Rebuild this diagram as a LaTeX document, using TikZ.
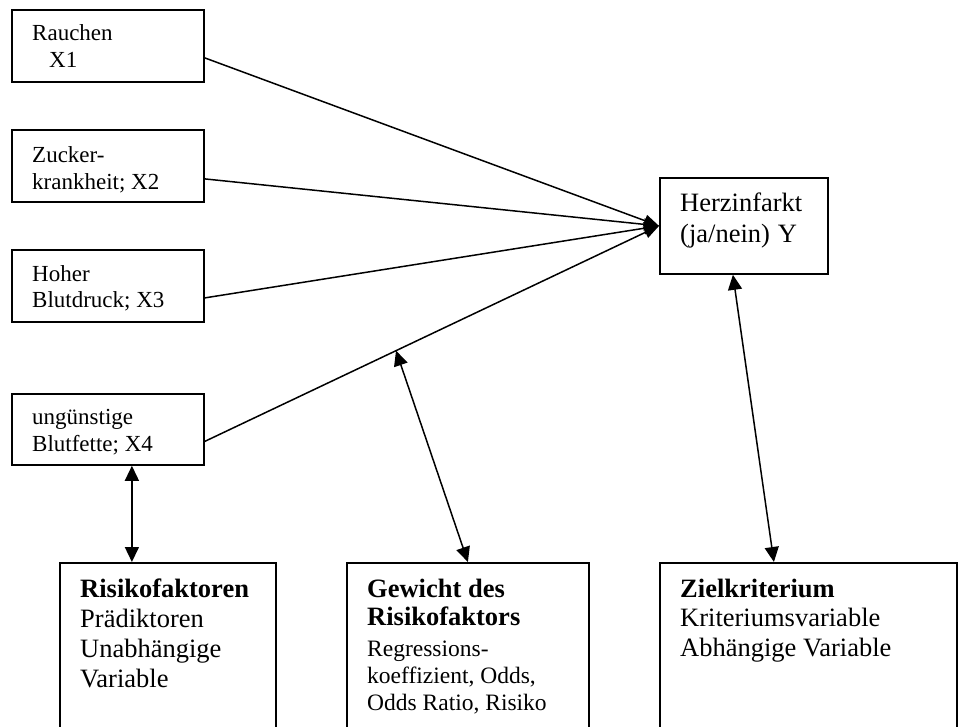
\documentclass[tikz,border=0pt]{standalone}
\usepackage{fontspec}
\setmainfont{Liberation Serif}
\usetikzlibrary{arrows.meta}
\tikzset{
  box/.style={draw, line width=1.8pt, rectangle, inner sep=0pt, anchor=north west},
  sm/.style={font=\fontsize{23}{27}\selectfont, align=left, inner sep=0pt, anchor=base west},
  lg/.style={font=\fontsize{26.5}{30}\selectfont, align=left, inner sep=0pt, anchor=base west},
  conn/.style={line width=1.5pt},
  tipend/.style={-{Triangle[length=15pt,width=12pt]}},
  tipboth/.style={{Triangle[length=15pt,width=14pt]}-{Triangle[length=15pt,width=14pt]}},
}
\begin{document}
\begin{tikzpicture}[x=1pt,y=-1pt]
\clip (0,0) rectangle (958,727);
\fill[white] (0,0) rectangle (958,727);
% left boxes
\node[box, minimum width=192pt, minimum height=72pt] (x1) at (11,9) {};
\node[box, minimum width=192pt, minimum height=72pt] (x2) at (11,129) {};
\node[box, minimum width=192pt, minimum height=72pt] (x3) at (11,249) {};
\node[box, minimum width=192pt, minimum height=71pt] (x4) at (11,393) {};
\node[sm] (t1) at (32,68) {Rauchen\\\hspace*{17pt}X1};
\node[sm] (t2) at (32,190) {Zucker-\\krankheit; X2};
\node[sm] (t3) at (32,308) {Hoher\\Blutdruck; X3};
\node[sm] (t4) at (32,451) {ungünstige\\Blutfette; X4};
% target box
\node[box, minimum width=168pt, minimum height=96pt] (hz) at (659,177) {};
\node[lg, font=\fontsize{26.5}{31}\selectfont] (thz) at (680,243) {Herzinfarkt\\(ja/nein)\hspace{8pt}Y};
% bottom boxes (open at the bottom edge)
\node[box, minimum width=216pt, minimum height=200pt] (rf) at (59,562) {};
\node[box, minimum width=242pt, minimum height=200pt] (gw) at (346,562) {};
\node[box, minimum width=297pt, minimum height=200pt] (zk) at (659,562) {};
\node[lg] (trf) at (80,687) {\textbf{Risikofaktoren}\\Prädiktoren\\Unabhängige\\Variable};
\node[lg, font=\fontsize{26.5}{28}\selectfont\bfseries] (tgw) at (367,625) {Gewicht des\\Risikofaktors};
\node[sm, font=\fontsize{23.5}{27}\selectfont] (tgw2) at (367,710) {Regressions-\\koeffizient, Odds,\\Odds Ratio, Risiko};
\node[lg, font=\fontsize{26.5}{29.5}\selectfont] (tzk) at (680,656) {\textbf{Zielkriterium}\\Kriteriumsvariable\\Abhängige Variable};
% connectors
\coordinate (hzin) at (hz.west);
\coordinate (s4) at ([yshift=-12pt]x4.east);
\draw[conn, tipend] ([yshift=-12pt]x1.east) -- (hzin);
\draw[conn, tipend] ([yshift=-13pt]x2.east) -- (hzin);
\draw[conn, tipend] ([yshift=-12pt]x3.east) -- (hzin);
\draw[conn, tipend] (s4) -- (hzin);
\path (s4) -- (hzin) coordinate[pos=0.421] (g1);
\draw[conn, tipboth] ([xshift=24pt]x4.south) -- ([xshift=-36pt]rf.north);
\draw[conn, tipboth] (g1) -- (gw.north);
\draw[conn, tipboth] ([xshift=-11pt]hz.south) -- ([xshift=-34.5pt]zk.north);
\end{tikzpicture}
\end{document}
